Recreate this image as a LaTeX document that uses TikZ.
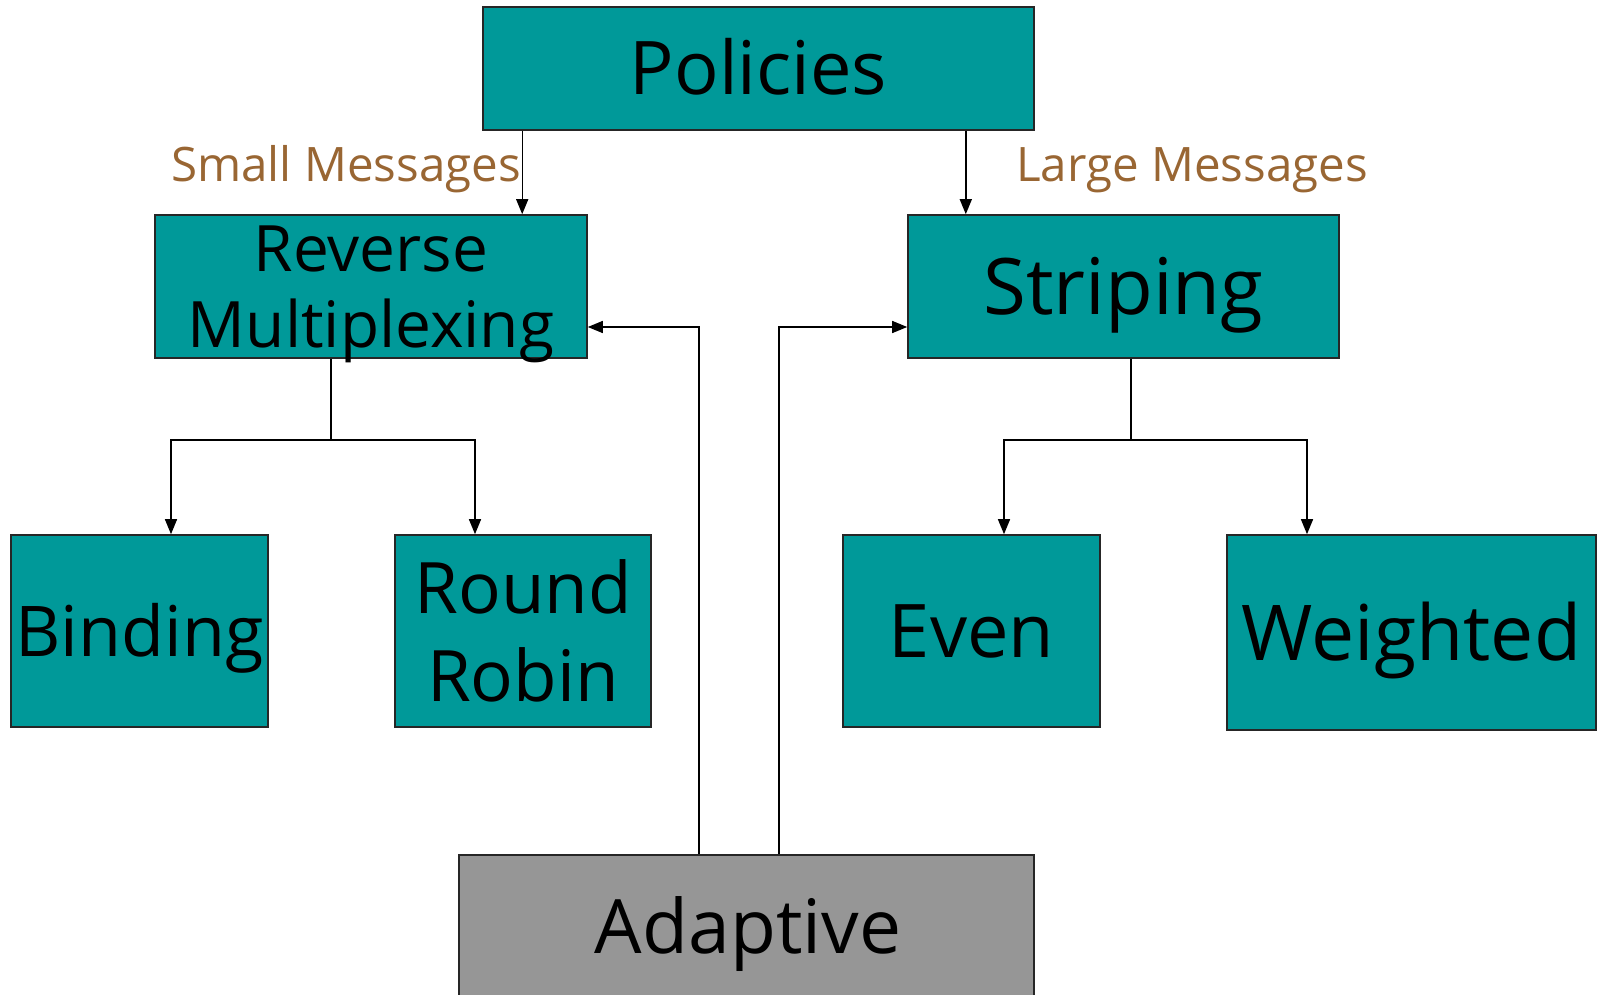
\documentclass[tikz,border=0pt]{standalone}
\usepackage{fontspec}
\setmainfont{Open Sans}
\usetikzlibrary{arrows.meta,calc}
\definecolor{boxteal}{HTML}{009999}
\definecolor{boxgray}{HTML}{969696}
\definecolor{labelbrown}{HTML}{996633}
\newcommand{\fs}[1]{\fontsize{#1}{#1}\selectfont}
\tikzset{
  box/.style={draw=black!85, line width=1.6pt, fill=boxteal, rectangle, inner sep=0pt,
    align=center, text depth=0pt},
  arr/.style={draw=black, line width=1.4pt, -{Triangle[length=15pt,width=12pt]}},
  link/.style={draw=black, line width=1.4pt},
  msg/.style={text=labelbrown, font=\fs{47.5}, inner sep=0pt}
}
\begin{document}
\begin{tikzpicture}[x=1pt,y=-1pt]
\useasboundingbox (0,0) rectangle (1601,995);
\clip (0,0) rectangle (1601,995);

% boxes (single-line labels are centred on their capital height)
\node[box, font=\fs{74}, text height=52.8pt, minimum width=551pt, minimum height=123pt] (pol) at (758.5,68.5) {Policies};
\node[box, font=\fontsize{64}{76}\selectfont, minimum width=432pt, minimum height=143pt] (rm) at (371,286.5) {Reverse\\Multiplexing};
\node[box, font=\fs{78}, text height=55.7pt, minimum width=431pt, minimum height=143pt] (str) at (1123.5,286.5) {Striping};
\node[box, font=\fs{70}, text height=50pt, minimum width=257pt, minimum height=192pt] (bind) at (139.5,631) {Binding};
\node[box, font=\fontsize{71}{88}\selectfont, minimum width=256pt, minimum height=192pt] (rr) at (523,631) {Round\\Robin};
\node[box, font=\fs{74}, text height=52.8pt, minimum width=257pt, minimum height=192pt] (even) at (971.5,631) {Even};
\node[box, font=\fs{77}, text height=55pt, minimum width=369pt, minimum height=195pt] (wt) at (1411.5,632.5) {Weighted};
\node[box, fill=boxgray, minimum width=575pt, minimum height=150pt] (ad) at (746.5,930) {};
\node[font=\fs{75}, inner sep=0pt, text height=53.6pt, text depth=0pt] (adt) at (748,927) {Adaptive};

% message-size labels
\node[msg, anchor=base east] (small) at (521,182) {Small Messages};
\node[msg, anchor=base west] (large) at (1016,182) {Large Messages};

% policies to the two schemes
\draw[arr] ([xshift=40pt]pol.south west) -- ([xshift=40pt]pol.south west |- rm.north);
\draw[arr] ([xshift=-69pt]pol.south east) -- ([xshift=-69pt]pol.south east |- str.north);

% reverse multiplexing branches
\coordinate (rmj) at ([xshift=-40pt,yshift=-81pt]rm.south);
\draw[link] ([xshift=-40pt]rm.south) -- (rmj);
\draw[arr] (rmj) -| ([xshift=31.5pt]bind.north);
\draw[arr] (rmj) -| ([xshift=-48pt]rr.north);

% striping branches
\coordinate (stj) at ([xshift=7.5pt,yshift=-81pt]str.south);
\draw[link] ([xshift=7.5pt]str.south) -- (stj);
\draw[arr] (stj) -| ([xshift=32.5pt]even.north);
\draw[arr] (stj) -| ([xshift=-104.5pt]wt.north);

% adaptive selection
\draw[arr] ([xshift=-47.5pt]ad.north) |- ([yshift=-40.5pt]rm.east);
\draw[arr] ([xshift=32.5pt]ad.north) |- ([yshift=-40.5pt]str.west);
\end{tikzpicture}
\end{document}
